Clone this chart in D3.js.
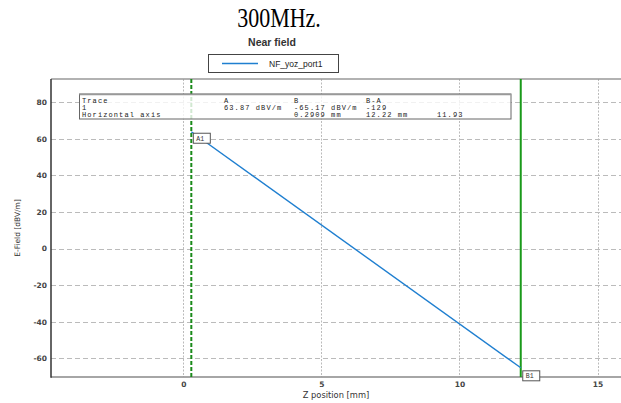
<!DOCTYPE html>
<html><head><meta charset="utf-8">
<script src="https://cdn.jsdelivr.net/npm/d3@7"></script>
<style>body{margin:0;background:#fff}svg{display:block}</style>
</head><body>
<svg id="c" width="621" height="403"></svg>
<script>
const title = "300MHz.";
const subtitle = "Near field";
const seriesName = "NF_yoz_port1";
const zPos = [0.2909, 12.22];
const eField = [63.87, -65.17];
const xTicks = [0, 5, 10, 15];
const yTicks = [-60, -40, -20, 0, 20, 40, 60, 80];
const markerA = {name: "A1", x: 0.2909, y: 63.87};
const markerB = {name: "B1", x: 12.22, y: -65.17};
const tableRows = [
  ["Trace", "A", "B", "B-A", ""],
  ["1", "63.87 dBV/m", "-65.17 dBV/m", "-129", ""],
  ["Horizontal axis", "", "0.2909 mm", "12.22 mm", "11.93"]
];

const svg = d3.select("#c");
const L = 51, R = 621, T = 79, B = 377;
const x = d3.scaleLinear().domain([-4.79, 15.85]).range([L, R]);
const y = d3.scaleLinear().domain([-70.2, 92.7]).range([B, T]);

// titles
svg.append("text").attr("x", 279).attr("y", 27).attr("text-anchor", "middle")
  .attr("font-family", "Liberation Serif").attr("font-size", 22)
  .attr("transform", "translate(0,-5.4) scale(1,1.2)")
  .attr("fill", "#000").text(title);
svg.append("text").attr("x", 272).attr("y", 45.5).attr("text-anchor", "middle")
  .attr("font-family", "Liberation Sans").attr("font-weight", "bold").attr("font-size", 10.5)
  .attr("fill", "#333").text(subtitle);

// legend
svg.append("rect").attr("x", 208.5).attr("y", 54.5).attr("width", 130).attr("height", 18)
  .attr("fill", "#fff").attr("stroke", "#444").attr("stroke-width", 1);
svg.append("line").attr("x1", 222).attr("x2", 258).attr("y1", 63.5).attr("y2", 63.5)
  .attr("stroke", "#1f7fd0").attr("stroke-width", 1.5);
svg.append("text").attr("x", 269).attr("y", 66.5).attr("font-family", "Liberation Sans")
  .attr("font-size", 8.5).attr("fill", "#222").text(seriesName);

// grid
svg.append("g").selectAll("line").data(yTicks).join("line")
  .attr("x1", L).attr("x2", R).attr("y1", d => Math.round(y(d)) + 0.5).attr("y2", d => Math.round(y(d)) + 0.5)
  .attr("stroke", "#bbb").attr("stroke-dasharray", "5,3");
svg.append("g").selectAll("line").data(xTicks).join("line")
  .attr("y1", T).attr("y2", B).attr("x1", d => Math.round(x(d)) + 0.5).attr("x2", d => Math.round(x(d)) + 0.5)
  .attr("stroke", "#bbb").attr("stroke-dasharray", "2,1.5");

// axes
const fmt = d => String(d);
const yAxis = d3.axisLeft(y).tickValues(yTicks).tickFormat(fmt).tickSize(0).tickPadding(4);
const gy = svg.append("g").attr("transform", `translate(${L},0)`).call(yAxis);
gy.select(".domain").remove();
gy.selectAll("text").attr("font-family", "DejaVu Sans").attr("font-weight", "bold").attr("font-size", 7.5).attr("fill", "#444");
const xAxis = d3.axisBottom(x).tickValues(xTicks).tickFormat(fmt).tickSize(0).tickPadding(5);
const gx = svg.append("g").attr("transform", `translate(0,${B})`).call(xAxis);
gx.select(".domain").remove();
gx.selectAll("text").attr("font-family", "DejaVu Sans").attr("font-weight", "bold").attr("font-size", 7.5).attr("fill", "#444");

svg.append("line").attr("x1", L).attr("x2", R).attr("y1", T).attr("y2", T).attr("stroke", "#999").attr("stroke-width", 1.5);
svg.append("line").attr("x1", L).attr("x2", R).attr("y1", B).attr("y2", B).attr("stroke", "#888").attr("stroke-width", 1.5);
svg.append("line").attr("x1", L).attr("x2", L).attr("y1", T).attr("y2", B + 0.7).attr("stroke", "#333").attr("stroke-width", 1.5);

svg.append("text").attr("transform", `translate(20,228) rotate(-90)`).attr("text-anchor", "middle")
  .attr("font-family", "DejaVu Sans").attr("font-size", 7.5).attr("fill", "#333").text("E-Field [dBV/m]");
svg.append("text").attr("x", 336).attr("y", 398).attr("text-anchor", "middle")
  .attr("font-family", "DejaVu Sans").attr("font-size", 8.3).attr("fill", "#333").text("Z position [mm]");

// marker lines
svg.append("line").attr("x1", x(markerA.x)).attr("x2", x(markerA.x)).attr("y1", T).attr("y2", B)
  .attr("stroke", "#1a8a1a").attr("stroke-width", 2).attr("stroke-dasharray", "4,2");
svg.append("line").attr("x1", x(markerB.x)).attr("x2", x(markerB.x)).attr("y1", T).attr("y2", B)
  .attr("stroke", "#1a9a1a").attr("stroke-width", 2);

// series
const pts = zPos.map((z, i) => [z, eField[i]]);
svg.append("path").datum(pts).attr("fill", "none").attr("stroke", "#1f7fd0").attr("stroke-width", 1.4)
  .attr("d", d3.line().x(d => x(d[0])).y(d => y(d[1])));

// marker table
svg.append("rect").attr("x", 79.5).attr("y", 94).attr("width", 431.5).attr("height", 25)
  .attr("fill", "#fff").attr("fill-opacity", 0.8).attr("stroke", "#666").attr("stroke-width", 1);
svg.append("line").attr("x1", 79.5).attr("x2", 511).attr("y1", 94.5).attr("y2", 94.5).attr("stroke", "#999").attr("stroke-width", 1.5);
const colX = [82, 224, 294, 366, 437];
const rowY = [103, 109.5, 116.5];
tableRows.forEach((row, ri) => row.forEach((cell, ci) => {
  if (!cell) return;
  svg.append("text").attr("x", colX[ci]).attr("y", rowY[ri]).attr("font-family", "Liberation Mono")
    .attr("font-size", 7).attr("letter-spacing", 1.1).attr("fill", "#222").text(cell);
}));

// marker labels
[[markerA, 2, 1.5], [markerB, 2, 3]].forEach(([m, dx, dy]) => {
  const px = x(m.x) + dx, py = y(m.y) + dy;
  svg.append("rect").attr("x", px).attr("y", py).attr("width", 17).attr("height", 10)
    .attr("fill", "#fff").attr("stroke", "#555").attr("stroke-width", 1);
  svg.append("text").attr("x", px + 3).attr("y", py + 7.5).attr("font-family", "Liberation Mono")
    .attr("font-size", 6.5).attr("fill", "#333").text(m.name);
});
</script>
</body></html>
